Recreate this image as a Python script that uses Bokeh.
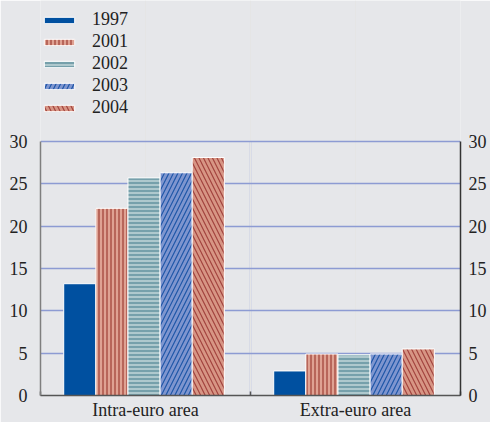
import numpy as np
from bokeh.plotting import figure
from bokeh.models import Range1d, LinearAxis, FixedTicker, Legend, LegendItem, Grid, ColumnDataSource
from bokeh.embed import file_html
from bokeh.resources import INLINE

# ---- data ----
categories = ["Intra-euro area", "Extra-euro area"]
years = ["1997", "2001", "2002", "2003", "2004"]
v1997 = [13.2, 2.9]
v2001 = [22.1, 4.9]
v2002 = [25.7, 4.8]
v2003 = [26.3, 4.9]
v2004 = [28.1, 5.5]
y_ticks = [0, 5, 10, 15, 20, 25, 30]

series = [v1997, v2001, v2002, v2003, v2004]

# ---- styles / layout ----
W, H = 490, 422
border_left, border_right, border_bottom = 40, 30, 24
frame_top_px = 142            # where the value 30 sits (px from top)
bg = "#e6e7ea"
grid_color = "#8d9bd3"
fills = ["#0050a0", "#dfa293", "#aec8cd", "#7e95cf", "#d79584"]
hatches = [" ", "vertical_line", "horizontal_line", "right_diagonal_line", "left_diagonal_line"]
hatch_colors = ["#0050a0", "#b8665a", "#6393a0", "#1e56a8", "#a2433e"]
hatch_scales = [4, 4, 4, 9, 9]
hatch_weights = [1, 2, 1.5, 1.2, 1.2]
bar_w = 0.153
group_shift = -0.007

font = "Liberation Serif"
fsize = "18px"
tcol = "#222222"

y_max = y_ticks[-1]
plot_h = H - border_bottom
y_end = y_max * plot_h / (plot_h - frame_top_px)   # extra room above 30 for the legend

p = figure(width=W, height=H, x_range=Range1d(0, len(categories)), y_range=Range1d(0, y_end),
           output_backend="svg", toolbar_location=None,
           x_axis_location=None, y_axis_location=None,
           min_border_left=border_left, min_border_right=border_right,
           min_border_top=0, min_border_bottom=border_bottom,
           background_fill_color=bg, border_fill_color=bg, outline_line_color=None)

# horizontal grid lines
p.add_layout(Grid(dimension=1, ticker=FixedTicker(ticks=y_ticks[1:]),
                  grid_line_color=grid_color, grid_line_width=1.3))
# vertical separator between the categories (0 .. 30 only)
seps = list(range(1, len(categories)))
p.segment(x0=seps, x1=seps, y0=[0] * len(seps), y1=[y_max] * len(seps),
          line_color=grid_color, line_width=1.3, level="underlay")

centers = np.arange(len(categories)) + 0.5
items = []
n = len(series)
for j, (yr, vals) in enumerate(zip(years, series)):
    xs = centers + (j - (n - 1) / 2) * bar_w + group_shift
    src = ColumnDataSource(dict(x=xs, top=vals))
    r = p.vbar(x="x", top="top", bottom=0, width=bar_w, source=src,
               fill_color=fills[j], line_color="white", line_width=1,
               hatch_pattern=hatches[j], hatch_color=hatch_colors[j],
               hatch_scale=hatch_scales[j], hatch_weight=hatch_weights[j])
    items.append(LegendItem(label=yr, renderers=[r]))

# axes
def yaxis(line_color, standoff):
    return LinearAxis(ticker=FixedTicker(ticks=y_ticks), bounds=(0, y_max),
                      axis_line_color=line_color,
                      axis_line_width=1.5, major_tick_in=0, major_tick_out=0,
                      minor_tick_line_color=None, major_label_standoff=standoff,
                      major_label_text_font=font, major_label_text_font_size=fsize,
                      major_label_text_color=tcol)

p.add_layout(yaxis("#7f7f7f", 13), "left")
p.add_layout(yaxis("#333333", 8), "right")

xa = LinearAxis(ticker=FixedTicker(ticks=list(centers), minor_ticks=list(range(len(categories) + 1))),
                major_label_overrides={float(c): lab for c, lab in zip(centers, categories)},
                major_tick_line_color=None, major_tick_in=0, major_tick_out=0,
                minor_tick_in=4, minor_tick_out=0, minor_tick_line_color="#555555",
                minor_tick_line_width=1.5, axis_line_color="#555555", axis_line_width=1.5,
                major_label_standoff=4, major_label_text_font=font,
                major_label_text_font_size=fsize, major_label_text_color=tcol)
p.add_layout(xa, "below")

legend_top = 13
legend = Legend(items=items, padding=0, margin=0, spacing=1,
                label_height=20, glyph_width=38, glyph_height=8, label_standoff=14,
                background_fill_alpha=0, border_line_color=None,
                label_text_font=font, label_text_font_size=fsize, label_text_color=tcol)
legend_h = len(items) * 20 + (len(items) - 1) * 2
legend.location = (0, plot_h - legend_top - legend_h)
p.add_layout(legend)

open("out.html", "w").write(file_html(p, INLINE))
